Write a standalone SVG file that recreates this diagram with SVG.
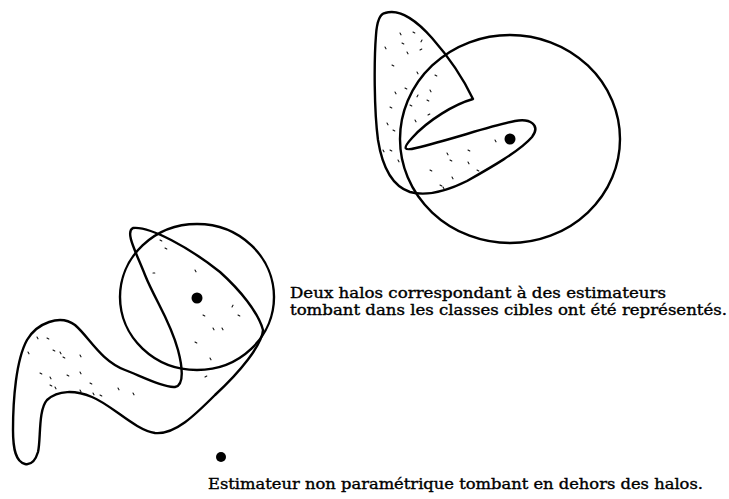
<svg xmlns="http://www.w3.org/2000/svg" width="729" height="499" viewBox="0 0 729 499">
<style>
.ln{fill:none;stroke:#000;stroke-width:2.4;stroke-linejoin:round;stroke-linecap:round}
.dt{fill:#000}
.st{fill:none;stroke:#111;stroke-width:1.1;stroke-linecap:round}
.tx{font-family:"DejaVu Serif","Liberation Serif",serif;font-size:14px;fill:#000;stroke:#000;stroke-width:0.35}
</style>
<rect width="729" height="499" fill="#fff"/>
<g id="halo-top">
<path class="ln" d="M385,13 C400,8 418,22 432,38 C447,55 463,78 473,99 C455,104 428,120 412,138 C402,149 404,151 416,148 C450,140 490,126 515,121 C530,118 541,125 532,137 C520,151 490,168 467,181 C445,192 425,196 410,192 C392,186 382,165 378,140 C374,110 374,60 376,35 C377,20 380,14 385,13 Z"/>
<path class="st" d="M400,33 l1,1.8 M413,32 l1.8,1 M422,40 l-1,1.8 M402,43 l1.8,1 M407,52 l1,1.8 M420,50 l1.8,-1 M385,47 l1,1.8 M392,65 l1.8,1 M417,72 l1,1.8 M435,75 l1.8,1 M395,92 l1,1.8 M405,88 l1.8,1 M418,95 l-1,1.8 M427,100 l1.8,1 M430,90 l1,1.8 M390,107 l1.8,1 M415,120 l1,1.8 M428,115 l1.8,-1 M387,123 l1,1.8 M393,130 l1.8,1 M383,150 l1,1.8 M390,150 l1.8,1 M447,153 l1,1.8 M468,150 l1.8,1 M495,140 l1,1.8 M450,160 l1.8,1 M468,162 l1,1.8 M430,170 l1.8,1 M452,177 l1,1.8 M440,185 l1.8,1 M443,187 l1,1.8 M477,170 l1.8,1 M398,160 l1,1.8 M410,105 l1.8,1"/>
</g>
<g id="halo-top-circle">
<ellipse class="ln" cx="510" cy="139" rx="110" ry="104"/>
<circle class="dt" cx="510" cy="139" r="5.5"/>
</g>
<g id="halo-bottom">
<path class="ln" d="M133,228 C150,226 190,248 220,272 C240,290 258,312 263,330 C262,345 240,372 215,395 C195,415 175,435 155,433 C135,430 112,405 92,397 C75,390 58,390 47,400 C38,410 41,440 38,452 C35,462 30,465 25,464 C16,462 13,450 13,430 C13,400 16,360 27,340 C37,323 60,314 75,325 C90,338 100,360 125,370 C145,378 165,388 175,387 C185,385 182,365 178,350 C170,320 155,300 145,275 C135,250 125,232 133,228 Z"/>
<path class="st" d="M165,248 l1.8,1 M153,273 l1.8,0 M195,270 l1,1.8 M203,315 l1.8,1 M232,307 l1,-1.8 M238,315 l1.8,1 M213,328 l1,1.8 M222,328 l1,1.8 M195,342 l1.8,1 M210,358 l1,1.8 M205,377 l1.8,-1 M118,388 l1,1.8 M133,393 l1,1.8 M37,337 l1,1.8 M47,338 l1.8,1 M28,352 l1,1.8 M53,350 l1.8,1 M60,352 l1,1.8 M63,357 l1.8,1 M80,355 l1,1.8 M40,373 l1.8,1 M50,377 l1,1.8 M50,385 l1.8,1 M55,387 l1,1.8 M67,375 l1.8,1 M80,372 l1,1.8 M90,383 l1.8,1 M93,393 l1,1.8 M100,395 l1.8,1 M80,390 l1,1.8 M160,240 l1.8,1"/>
</g>
<g id="halo-bottom-circle">
<ellipse class="ln" cx="197" cy="297" rx="77" ry="73"/>
<circle class="dt" cx="197" cy="298" r="5.5"/>
</g>
<g id="estimator-outside">
<circle class="dt" cx="221" cy="457" r="5"/>
</g>
<g id="labels">
<text class="tx" x="290" y="298" textLength="376" lengthAdjust="spacingAndGlyphs">Deux halos correspondant à des estimateurs</text>
<text class="tx" x="290" y="315" textLength="437" lengthAdjust="spacingAndGlyphs">tombant dans les classes cibles ont été représentés.</text>
<text class="tx" x="208" y="489" textLength="495" lengthAdjust="spacingAndGlyphs">Estimateur non paramétrique tombant en dehors des halos.</text>
</g>
</svg>
